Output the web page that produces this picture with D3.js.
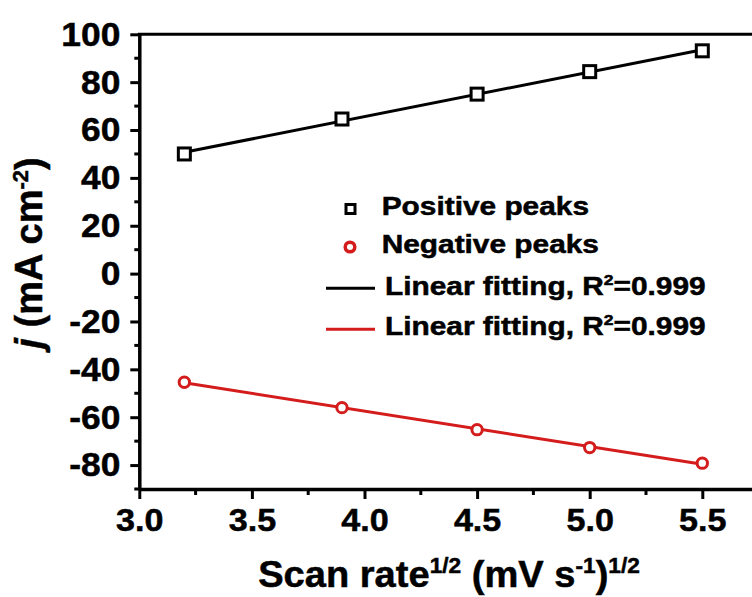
<!DOCTYPE html>
<html>
<head>
<meta charset="utf-8">
<script src="https://cdn.jsdelivr.net/npm/d3@7"></script>
<style>
  html, body { margin: 0; padding: 0; background: #fff; }
  svg { display: block; }
  text { font-family: Arial, "Liberation Sans", sans-serif; font-weight: bold; fill: #000;
         stroke: #000; stroke-width: 0.5px; }
</style>
</head>
<body>
<svg id="chart" width="752" height="597"></svg>
<script>
// Square root of scan rate, (mV s^-1)^1/2
const scanRateSqrt = [3.2, 3.9, 4.5, 5.0, 5.5];
// Peak current densities, mA cm^-2
const positivePeaks = [50.0, 64.6, 75.0, 84.4, 93.1];
const negativePeaks = [-45.4, -56.0, -65.2, -72.7, -79.2];

const xTicks = [3.0, 3.5, 4.0, 4.5, 5.0, 5.5];
const xMinorTicks = [3.25, 3.75, 4.25, 4.75, 5.25, 5.75];
const yTicks = [-80, -60, -40, -20, 0, 20, 40, 60, 80, 100];
const yMinorTicks = [-90, -70, -50, -30, -10, 10, 30, 50, 70, 90];

const legendItems = ["Positive peaks", "Negative peaks", "Linear fitting, R", "Linear fitting, R"];

const RED = "#d41c1c";

const svg = d3.select("#chart");

const x = d3.scaleLinear().domain([3.0, 5.75]).range([139.3, 758.6]);
const y = d3.scaleLinear().domain([-90, 100]).range([489, 34.3]);

// Least-squares straight line through a series
function linearFit(xs, ys) {
  const mx = d3.mean(xs), my = d3.mean(ys);
  let sxy = 0, sxx = 0;
  xs.forEach((v, i) => { sxy += (v - mx) * (ys[i] - my); sxx += (v - mx) * (v - mx); });
  const b = sxy / sxx, a = my - b * mx;
  const x0 = d3.min(xs), x1 = d3.max(xs);
  return [[x0, a + b * x0], [x1, a + b * x1]];
}

// Axes
const xAxis = svg.append("g")
  .attr("transform", `translate(0,${y(-90)})`)
  .call(d3.axisBottom(x).tickValues(xTicks).tickFormat(d => d.toFixed(1))
        .tickSize(10).tickSizeOuter(0).tickPadding(10));
xAxis.append("g").selectAll("line").data(xMinorTicks).join("line")
  .attr("x1", d => x(d)).attr("x2", d => x(d)).attr("y1", 0).attr("y2", 6);

const yAxis = svg.append("g")
  .attr("transform", `translate(${x(3.0)},0)`)
  .call(d3.axisLeft(y).tickValues(yTicks).tickFormat(d => String(d))
        .tickSize(9).tickSizeOuter(0).tickPadding(10));
yAxis.append("g").selectAll("line").data(yMinorTicks).join("line")
  .attr("x1", 0).attr("x2", -5).attr("y1", d => y(d)).attr("y2", d => y(d));

[xAxis, yAxis].forEach(g => {
  g.select(".domain").attr("stroke", "#000").attr("stroke-width", 3.5);
  g.selectAll("line").attr("stroke", "#000").attr("stroke-width", 3);
  g.selectAll("text").style("font-size", "34px").attr("fill", "#000");
});
xAxis.selectAll(".tick text").style("font-size", "31px")
  .attr("transform", "scale(1.1,1)");
yAxis.selectAll(".tick text").attr("x", -19 / 1.04).attr("transform", "scale(1.04,1)");

// Top frame line
svg.append("line")
  .attr("x1", x(3.0) - 1.5).attr("x2", 752).attr("y1", y(100)).attr("y2", y(100))
  .attr("stroke", "#000").attr("stroke-width", 3);

// Fitted lines
const line = d3.line().x(d => x(d[0])).y(d => y(d[1]));
svg.append("path").attr("d", line(linearFit(scanRateSqrt, positivePeaks)))
  .attr("fill", "none").attr("stroke", "#000").attr("stroke-width", 3);
svg.append("path").attr("d", line(linearFit(scanRateSqrt, negativePeaks)))
  .attr("fill", "none").attr("stroke", RED).attr("stroke-width", 3);

// Data markers
svg.append("g").selectAll("rect").data(scanRateSqrt).join("rect")
  .attr("x", (d) => x(d) - 6).attr("y", (d, i) => y(positivePeaks[i]) - 6)
  .attr("width", 12).attr("height", 12)
  .attr("fill", "#fff").attr("stroke", "#000").attr("stroke-width", 3);
svg.append("g").selectAll("circle").data(scanRateSqrt).join("circle")
  .attr("cx", d => x(d)).attr("cy", (d, i) => y(negativePeaks[i]))
  .attr("r", 5.2)
  .attr("fill", "#fff").attr("stroke", RED).attr("stroke-width", 3);

// Legend
const legend = svg.append("g");
legend.append("rect").attr("x", 346).attr("y", 204.5).attr("width", 9).attr("height", 9)
  .attr("fill", "#fff").attr("stroke", "#000").attr("stroke-width", 3);
legend.append("circle").attr("cx", 350).attr("cy", 247).attr("r", 4.8)
  .attr("fill", "#fff").attr("stroke", RED).attr("stroke-width", 3.5);
legend.append("line").attr("x1", 326).attr("x2", 375).attr("y1", 288.3).attr("y2", 288.3)
  .attr("stroke", "#000").attr("stroke-width", 3);
legend.append("line").attr("x1", 326).attr("x2", 375).attr("y1", 329.3).attr("y2", 329.3)
  .attr("stroke", RED).attr("stroke-width", 3);

const legendPos = [[381.7, 215], [381.7, 253.3], [385, 294.5], [385, 335]];
legendItems.forEach((label, i) => {
  const t = legend.append("text")
    .attr("transform", `translate(${legendPos[i][0]},${legendPos[i][1]}) scale(1.17,1)`)
    .style("font-size", "25.5px");
  t.append("tspan").text(label);
  if (i >= 2) {
    t.append("tspan").attr("dy", -10).style("font-size", "15px").text("2");
    t.append("tspan").attr("dy", 10).text("=0.999");
  }
});

// Axis titles
const xt = svg.append("text")
  .attr("transform", "translate(449,586.7) scale(1.03,1)")
  .attr("text-anchor", "middle").style("font-size", "37px");
xt.append("tspan").text("Scan rate");
xt.append("tspan").attr("dy", -14).style("font-size", "22px").text("1/2");
xt.append("tspan").attr("dy", 14).text(" (mV s");
xt.append("tspan").attr("dy", -14).style("font-size", "22px").text("-1");
xt.append("tspan").attr("dy", 14).text(")");
xt.append("tspan").attr("dy", -14).style("font-size", "22px").text("1/2");

const yt = svg.append("text")
  .attr("transform", "translate(42,253) rotate(-90)")
  .attr("text-anchor", "middle").style("font-size", "38px");
yt.append("tspan").style("font-style", "italic").text("j");
yt.append("tspan").text(" (mA cm");
yt.append("tspan").attr("dy", -14).style("font-size", "22px").text("-2");
yt.append("tspan").attr("dy", 14).text(")");
</script>
</body>
</html>
